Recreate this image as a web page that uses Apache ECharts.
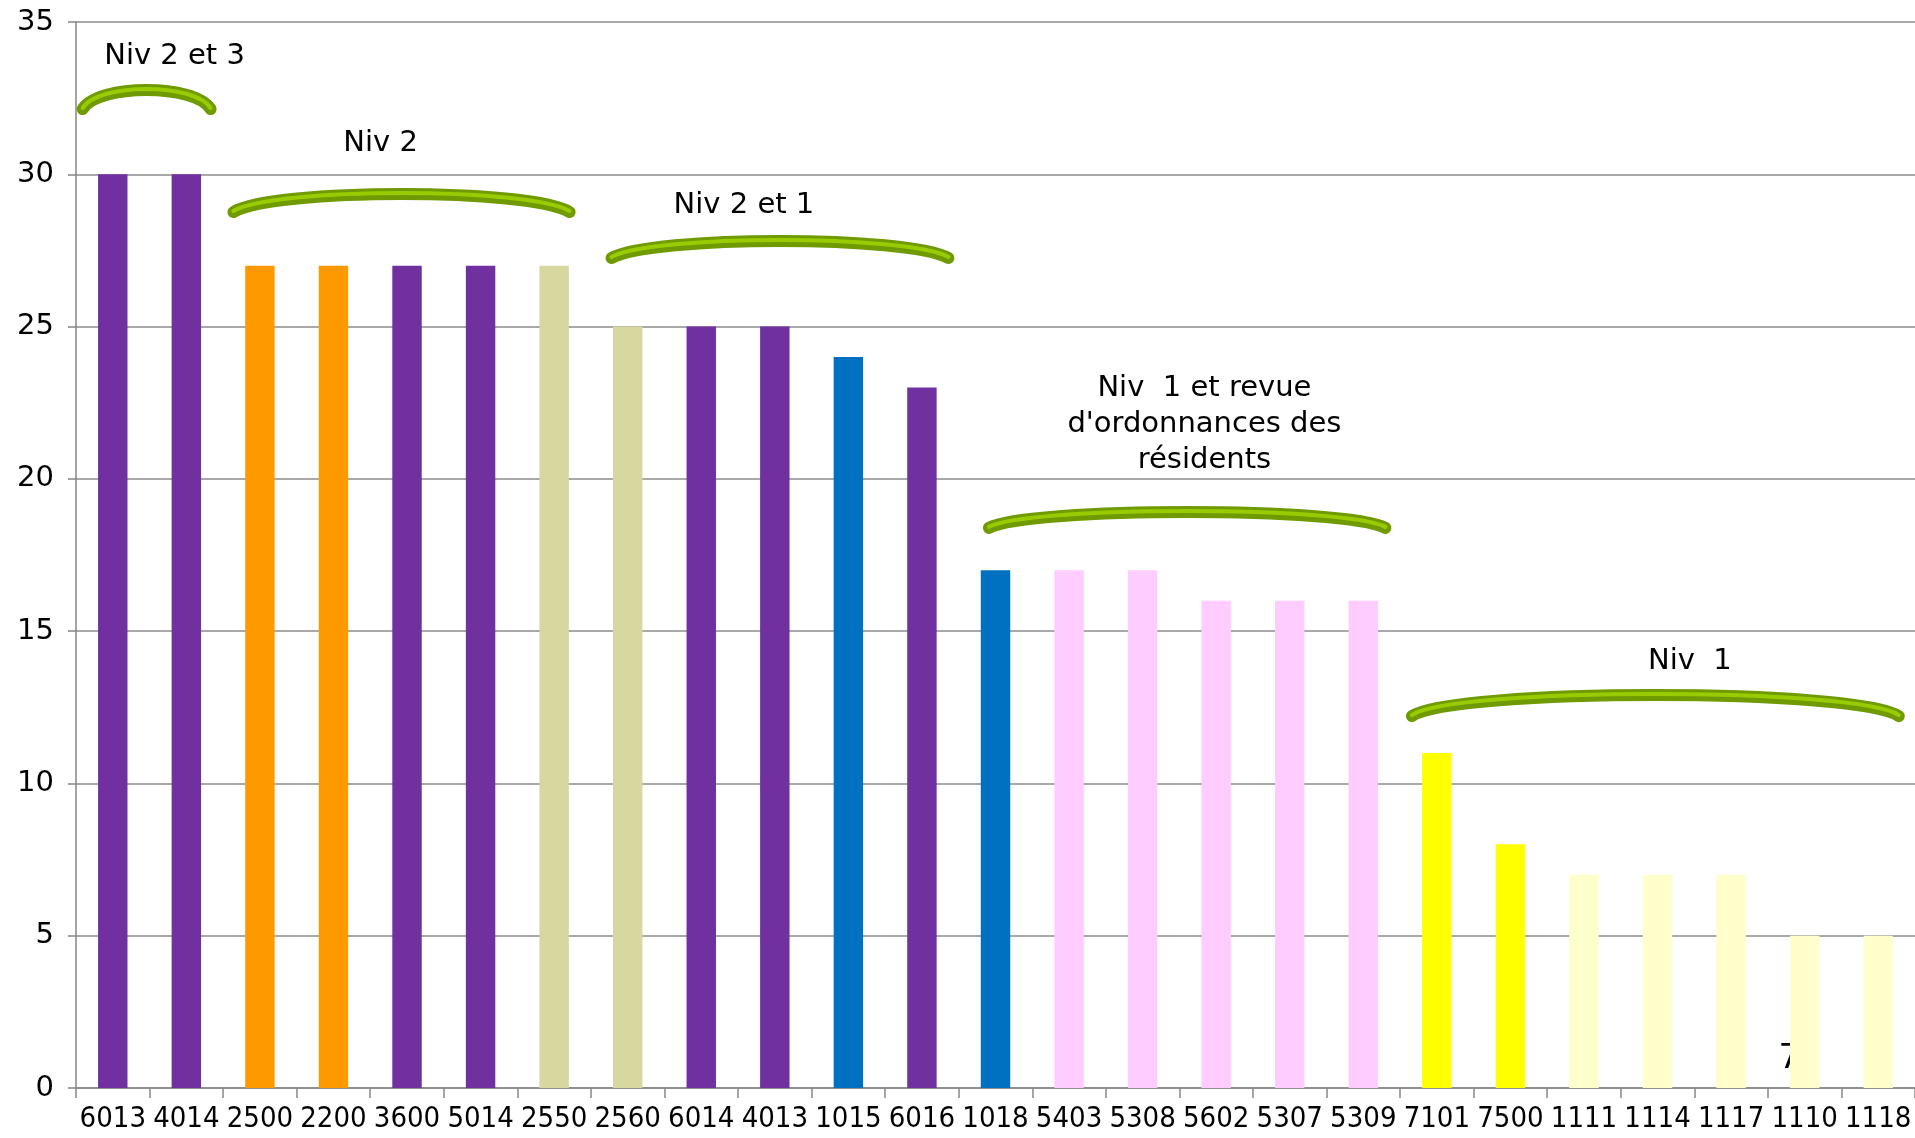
<!DOCTYPE html>
<html>
<head>
<meta charset="utf-8">
<script src="https://cdn.jsdelivr.net/npm/echarts@6/dist/echarts.min.js"></script>
<style>
  html, body { margin: 0; padding: 0; background: #fff; }
  #chart { width: 1915px; height: 1138px; }
</style>
</head>
<body>
<div id="chart"></div>
<script>
const categories = ['6013', '4014', '2500', '2200', '3600', '5014', '2550', '2560', '6014', '4013', '1015', '6016',
  '1018', '5403', '5308', '5602', '5307', '5309', '7101', '7500', '1111', '1114', '1117', '1110', '1118'];
const values = [30, 30, 27, 27, 27, 27, 27, 25, 25, 25, 24, 23, 17, 17, 17, 16, 16, 16, 11, 8, 7, 7, 7, 5, 5];
const barColors = ['#7030a0', '#7030a0', '#ff9900', '#ff9900', '#7030a0', '#7030a0', '#d7d7a0', '#d7d7a0',
  '#7030a0', '#7030a0', '#0070c0', '#7030a0', '#0070c0', '#ffccff', '#ffccff', '#ffccff', '#ffccff', '#ffccff',
  '#ffff00', '#ffff00', '#ffffcc', '#ffffcc', '#ffffcc', '#ffffcc', '#ffffcc'];

// groupes annotés : accolade de la catégorie "from" à "to" (index fractionnaires)
const groupLabels = ['Niv 2 et 3', 'Niv 2', 'Niv 2 et 1', 'Niv  1 et revue\nd\'ordonnances des\nrésidents', 'Niv  1'];
const groupFrom = [-0.41, 1.64, 6.78, 11.91, 17.66];
const groupTo = [1.33, 6.21, 11.36, 17.30, 24.28];
const groupEndY = [32.14, 28.76, 27.25, 18.39, 12.21];
const groupTopY = [32.77, 29.35, 27.81, 18.91, 12.90];
const groupTextX = [0.84, 3.64, 8.58, 14.84, 21.44];
const groupTextY = [33.88, 31.0, 28.96, 21.80, 14.02];

const el = document.getElementById('chart');
const chart = echarts.init(el);

chart.setOption({
  animation: false,
  grid: { left: 76, right: 0, top: 22, bottom: 50 },
  xAxis: {
    type: 'category',
    data: categories,
    axisLine: { lineStyle: { color: '#868686', width: 1.5 } },
    axisTick: { show: true, length: 10, lineStyle: { color: '#868686', width: 1.5 } },
    axisLabel: {
      interval: 0,
      margin: 17,
      color: '#000',
      fontSize: 29,
      fontFamily: '"DejaVu Sans Condensed", "Liberation Sans Narrow", "DejaVu Sans", sans-serif'
    }
  },
  yAxis: {
    type: 'value',
    min: 0,
    max: 35,
    interval: 5,
    axisLine: { show: true, lineStyle: { color: '#868686', width: 1.5 } },
    axisTick: { show: true, length: 8, lineStyle: { color: '#868686', width: 1.5 } },
    splitLine: { lineStyle: { color: '#8c8c8c', width: 1.5 } },
    axisLabel: {
      margin: 22,
      color: '#000',
      fontSize: 29,
      fontFamily: '"DejaVu Sans", Verdana, sans-serif'
    }
  },
  series: [{
    type: 'bar',
    data: values.map((v, i) => ({ value: v, itemStyle: { color: barColors[i] } })),
    barWidth: '40%',
    z: 5
  }]
});

function px(x, y) {
  return chart.convertToPixel({ xAxisIndex: 0, yAxisIndex: 0 }, [x, y]);
}

function catPx(idx) {
  // position fractionnaire sur l'axe des catégories
  const a = px(0, 0)[0];
  const b = px(1, 0)[0];
  return a + (b - a) * idx;
}

const graphics = [];
groupLabels.forEach((label, i) => {
  const x1 = catPx(groupFrom[i]);
  const x2 = catPx(groupTo[i]);
  const yE = px(0, groupEndY[i])[1];
  const yT = px(0, groupTopY[i])[1];
  const yc = (4 * yT - yE) / 3;
  const a = Math.min((x2 - x1) * 0.12, 40);
  const shape = { x1: x1, y1: yE, cpx1: x1 + a, cpy1: yc, cpx2: x2 - a, cpy2: yc, x2: x2, y2: yE };
  graphics.push({
    type: 'bezierCurve', shape: shape, z: 100,
    style: { stroke: '#6f9a00', lineWidth: 12, lineCap: 'round', fill: null }
  });
  graphics.push({
    type: 'bezierCurve', shape: Object.assign({}, shape, { y1: yE - 1, y2: yE - 1, cpy1: yc - 1, cpy2: yc - 1 }), z: 101,
    style: { stroke: '#99cc00', lineWidth: 4, lineCap: 'round', fill: null }
  });
  const t = px(0, groupTextY[i]);
  graphics.push({
    type: 'text', z: 102,
    x: catPx(groupTextX[i]), y: t[1],
    style: {
      text: label,
      fill: '#000',
      font: '29px "DejaVu Sans", Verdana, sans-serif',
      align: 'center',
      verticalAlign: 'middle',
      lineHeight: 36
    }
  });
});

// "7" partiellement caché derrière la barre 1110
const p7 = px(0, 0.94);
graphics.push({
  type: 'text', z: 0, zlevel: 0,
  x: catPx(22.79), y: p7[1],
  style: { text: '7', fill: '#000', font: '34px "DejaVu Sans", sans-serif', align: 'center', verticalAlign: 'middle' }
});

chart.setOption({ graphic: { elements: graphics } });
</script>
</body>
</html>
